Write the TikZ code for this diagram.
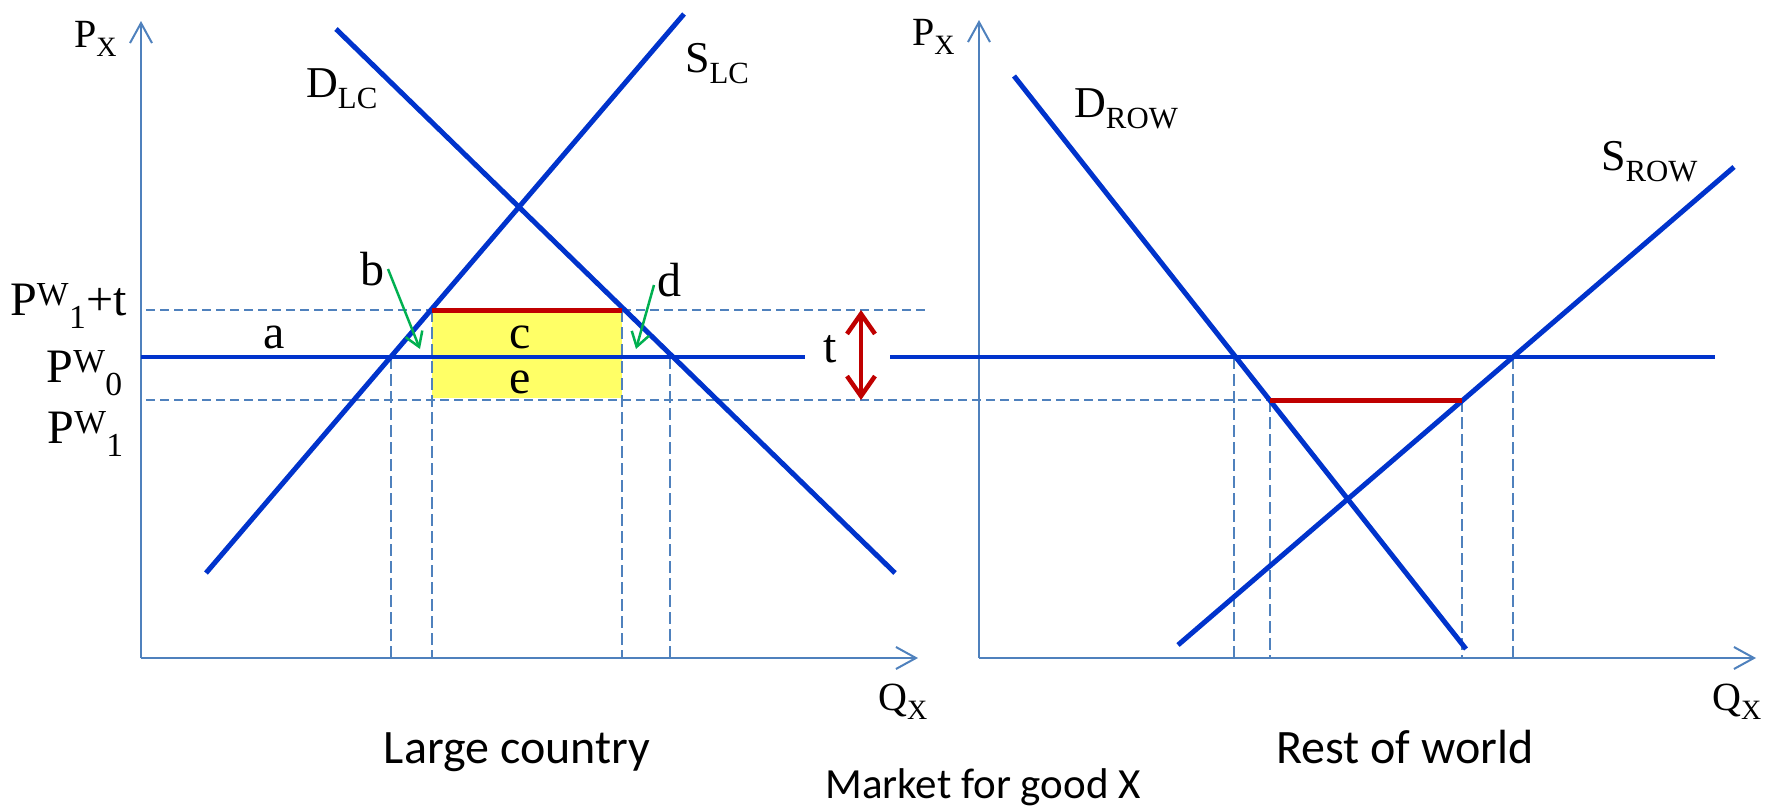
\documentclass[tikz,border=0pt]{standalone}
\usepackage{fontspec}
\setmainfont{Liberation Serif}
\newfontfamily\calib{Carlito}
\usetikzlibrary{arrows.meta}
\definecolor{curvec}{RGB}{0,51,204}
\definecolor{axisc}{RGB}{79,129,189}
\definecolor{redc}{RGB}{192,0,0}
\definecolor{yelc}{RGB}{255,255,102}
\definecolor{grnc}{RGB}{0,176,80}
\tikzset{
  curveline/.style={draw=curvec, line width=5pt},
  worldline/.style={draw=curvec, line width=3.2pt},
  axisline/.style={draw=axisc, line width=2.4pt, -{Straight Barb[length=20pt,width=22pt,line width=2pt]}},
  guideh/.style={draw=axisc, line width=2.4pt, dash pattern=on 9pt off 5pt},
  guidev/.style={draw=axisc, line width=2pt, dash pattern=on 12pt off 5pt},
  redline/.style={draw=redc, line width=5pt},
  greenarrow/.style={draw=grnc, line width=2.5pt, -{Straight Barb[length=14pt,width=18pt,line width=2.5pt]}},
  tarrow/.style={draw=redc, line width=4.5pt, {Straight Barb[length=20pt,width=28pt,line width=4.5pt]}-{Straight Barb[length=20pt,width=28pt,line width=4.5pt]}},
  lbl/.style={inner sep=0pt, font=\fontsize{48}{58}\selectfont},
  axlbl/.style={inner sep=0pt, font=\fontsize{40}{48}\selectfont},
  crvlbl/.style={inner sep=0pt, font=\fontsize{44}{52}\selectfont},
  caption/.style={inner sep=0pt, font=\calib\fontsize{48}{58}\selectfont},
  smallcaption/.style={inner sep=0pt, font=\calib\fontsize{43}{50}\selectfont},
}
\begin{document}
\begin{tikzpicture}[x=1pt,y=-1pt]
\useasboundingbox (0,0) rectangle (1765,809);
% key coordinates
\coordinate (LO) at (141,658);
\coordinate (LYtop) at (141,21);
\coordinate (LXend) at (918,658);
\coordinate (RO) at (979,658);
\coordinate (RYtop) at (979,20);
\coordinate (RXend) at (1756,658);
% yellow area
\fill[yelc] (432,310) rectangle (622,398);
% horizontal guides
\coordinate (HtL) at (146,310); \coordinate (HtR) at (925,310);
\coordinate (H1L) at (146,400); \coordinate (H1R) at (1270,400);
\draw[guideh] (HtL) -- (HtR);
\draw[guideh] (H1L) -- (H1R);
% vertical guides left
\coordinate (v1t) at (391,357); \coordinate (v1b) at (391,658);
\coordinate (v2t) at (432,310); \coordinate (v2b) at (432,658);
\coordinate (v3t) at (622,310); \coordinate (v3b) at (622,658);
\coordinate (v4t) at (670,357); \coordinate (v4b) at (670,658);
\draw[guidev] (v1t) -- (v1b);
\draw[guidev] (v2t) -- (v2b);
\draw[guidev] (v3t) -- (v3b);
\draw[guidev] (v4t) -- (v4b);
% vertical guides right
\coordinate (w1t) at (1234,357); \coordinate (w1b) at (1234,658);
\coordinate (w2t) at (1270,400); \coordinate (w2b) at (1270,658);
\coordinate (w3t) at (1462,400); \coordinate (w3b) at (1462,658);
\coordinate (w4t) at (1513,357); \coordinate (w4b) at (1513,658);
\draw[guidev] (w1t) -- (w1b);
\draw[guidev] (w2t) -- (w2b);
\draw[guidev] (w3t) -- (w3b);
\draw[guidev] (w4t) -- (w4b);
% axes
\draw[axisline] (LO) -- (LYtop);
\draw[axisline] (LO) -- (LXend);
\draw[axisline] (RO) -- (RYtop);
\draw[axisline] (RO) -- (RXend);
% world price line
\coordinate (P0a) at (141,357); \coordinate (P0b) at (805,357);
\coordinate (P0c) at (890,357); \coordinate (P0d) at (1715,357);
\draw[worldline] (P0a) -- (P0b);
\draw[worldline] (P0c) -- (P0d);
% curves
\coordinate (SLCb) at (206,573); \coordinate (SLCt) at (684,14);
\coordinate (DLCt) at (336,29); \coordinate (DLCb) at (895,573);
\coordinate (DRt) at (1014,76); \coordinate (DRb) at (1466,649);
\coordinate (SRb) at (1178,645); \coordinate (SRt) at (1734,167);
\draw[curveline] (SLCb) -- (SLCt);
\draw[curveline] (DLCt) -- (DLCb);
\draw[curveline] (DRt) -- (DRb);
\draw[curveline] (SRb) -- (SRt);
% red lines
\coordinate (r1a) at (432,310); \coordinate (r1b) at (622,310);
\coordinate (r2a) at (1270,400); \coordinate (r2b) at (1462,400);
\draw[redline] (r1a) -- (r1b);
\draw[redline] (r2a) -- (r2b);
% tariff arrow
\coordinate (ta) at (861,310); \coordinate (tb) at (861,400);
\draw[tarrow] (ta) -- (tb);
% green arrows
\coordinate (gb1) at (388,269); \coordinate (gb2) at (420,349);
\coordinate (gd1) at (654,285); \coordinate (gd2) at (636,349);
\draw[greenarrow] (gb1) -- (gb2);
\draw[greenarrow] (gd1) -- (gd2);
% labels
\node[axlbl, anchor=base west] (pxL) at (74,47) {P\textsubscript{X}};
\node[axlbl, anchor=base west] (pxR) at (912,45) {P\textsubscript{X}};
\node[axlbl, anchor=base west] (qxL) at (878,710) {Q\textsubscript{X}};
\node[axlbl, anchor=base west] (qxR) at (1712,710) {Q\textsubscript{X}};
\node[crvlbl, anchor=base west] (dlc) at (306,97) {D\textsubscript{LC}};
\node[crvlbl, anchor=base west] (slc) at (685,72) {S\textsubscript{LC}};
\node[crvlbl, anchor=base west] (drow) at (1074,117) {D\textsubscript{ROW}};
\node[crvlbl, anchor=base west] (srow) at (1601,170) {S\textsubscript{ROW}};
\node[lbl, anchor=base east] (p1t) at (127,315) {P\textsuperscript{W}\textsubscript{1}+t};
\node[lbl, anchor=base east] (p0) at (123,382) {P\textsuperscript{W}\textsubscript{0}};
\node[lbl, anchor=base east] (p1) at (124,443) {P\textsuperscript{W}\textsubscript{1}};
\node[lbl, anchor=base] (la) at (274,348) {a};
\node[lbl, anchor=base] (lb) at (372,285) {b};
\node[lbl, anchor=base] (lc) at (520,348) {c};
\node[lbl, anchor=base] (ld) at (669,296) {d};
\node[lbl, anchor=base] (le) at (520,393) {e};
\node[lbl, anchor=base] (lt) at (830,362) {t};
\node[caption, anchor=base] (cap1) at (517,763) {Large country};
\node[caption, anchor=base] (cap2) at (1405,763) {Rest of world};
\node[smallcaption, anchor=base] (cap3) at (983,798) {Market for good X};
\end{tikzpicture}
\end{document}
